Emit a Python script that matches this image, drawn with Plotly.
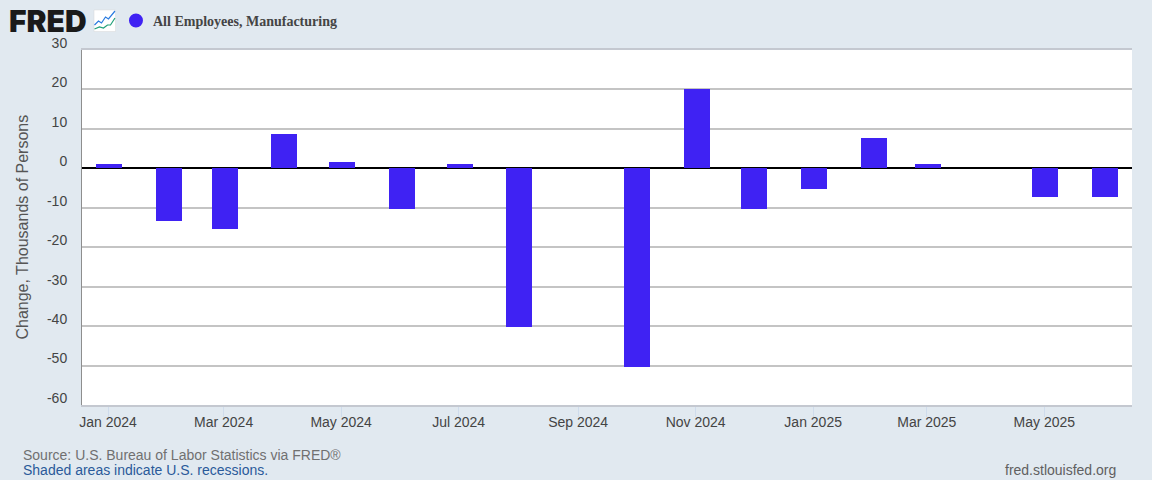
import plotly.graph_objects as go

months = ["2024-01-01","2024-02-01","2024-03-01","2024-04-01","2024-05-01","2024-06-01",
          "2024-07-01","2024-08-01","2024-09-01","2024-10-01","2024-11-01","2024-12-01",
          "2025-01-01","2025-02-01","2025-03-01","2025-04-01","2025-05-01","2025-06-01"]
values = [1,-13.3,-15.3,8.7,1.7,-10.3,1,-40.3,0,-50.3,20,-10.3,-5.3,7.7,1,0,-7.3,-7.3]
series_name = "All Employees, Manufacturing"
y_ticks = [30,20,10,0,-10,-20,-30,-40,-50,-60]
y_labels = ["30","20","10","0","-10","-20","-30","-40","-50","-60"]
x_ticks = ["2023-12-31 12:00","2024-02-29 12:00","2024-04-30 12:00","2024-06-30 12:00","2024-08-31 12:00",
           "2024-10-31 12:00","2024-12-31 12:00","2025-02-28 12:00","2025-04-30 12:00"]
x_labels = ["Jan 2024","Mar 2024","May 2024","Jul 2024","Sep 2024","Nov 2024",
            "Jan 2025","Mar 2025","May 2025"]

BG = "#e1e9f0"
SANS = "Liberation Sans, Arial, sans-serif"
W, H = 1152, 480
L, R, T, B = 81.5, 1132, 50, 405

def px(x): return (x - L) / (R - L)
def py(y): return (B - y) / (B - T)

fig = go.Figure(go.Bar(x=months, y=values, name=series_name,
                       marker=dict(color="#3f22f3", line_width=0),
                       width=13.5 * 86400000))

def note(x, y, text, size, color, anchor="left", family=SANS, bold=False, weight=None):
    f = dict(size=size, color=color, family=family)
    if weight:
        f["weight"] = weight
    fig.add_annotation(xref="paper", yref="paper", x=px(x), y=py(y), text=f"<b>{text}</b>" if bold else text,
                       showarrow=False, xanchor=anchor, yanchor="middle", borderpad=0, font=f)

# header
note(7.5, 21, "FRED", 30, "#1a1a1a", family="Inter, Liberation Sans, sans-serif", weight=900)
fig.add_shape(type="rect", xref="paper", yref="paper", x0=px(93.5), x1=px(115), y0=py(10), y1=py(31.5),
              fillcolor="white", line=dict(color="#d8d8d8", width=0.5))
fig.add_shape(type="path", xref="paper", yref="paper",
              path=f"M {px(94)} {py(25)} L {px(98)} {py(21)} L {px(101)} {py(23)} L {px(105)} {py(17)} L {px(108)} {py(19)} L {px(114.5)} {py(11)}",
              line=dict(color="#2a7be0", width=1.2))
fig.add_shape(type="path", xref="paper", yref="paper",
              path=f"M {px(94)} {py(29)} L {px(99)} {py(27)} L {px(103)} {py(28)} L {px(107)} {py(25)} L {px(110)} {py(25)} L {px(114.5)} {py(18)}",
              line=dict(color="#22a07a", width=1.2))
fig.add_shape(type="circle", xref="paper", yref="paper", x0=px(128.5), x1=px(142.5), y0=py(13.5), y1=py(27.5),
              fillcolor="#3f22f3", line_width=0)
note(152, 21, series_name, 14, "#444444", family="Liberation Serif, Times New Roman, serif", bold=True)

# footer
note(21, 455, "Source: U.S. Bureau of Labor Statistics via FRED®", 14, "#707070")
note(21, 470, "Shaded areas indicate U.S. recessions.", 14, "#2a5a9a")
note(1117, 470, "fred.stlouisfed.org", 14, "#606060", anchor="right")

# y title
fig.add_annotation(xref="paper", yref="paper", x=px(21), y=py(227), text="Change, Thousands of Persons",
                   textangle=-90, showarrow=False, xanchor="center", yanchor="middle",
                   font=dict(size=16, color="#555555", family=SANS))

fig.update_layout(
    width=W, height=H, autosize=False, showlegend=False, bargap=0,
    paper_bgcolor=BG, plot_bgcolor="white",
    margin=dict(l=L, r=W - R, t=T, b=H - B, pad=0),
    font=dict(family=SANS, size=14, color="#444444"),
    xaxis=dict(type="date", range=["2023-12-18", "2025-06-15"], tickmode="array",
               tickvals=x_ticks, ticktext=x_labels, ticks="outside", ticklen=10, tickwidth=1,
               tickcolor="#cfdcec", showgrid=False, zeroline=False, ticklabelstandoff=-7,
               showline=True, mirror=True, linecolor="#c4c8d0", linewidth=2,
               tickfont=dict(size=14, color="#444444")),
    yaxis=dict(range=[-60, 30], tickmode="array", tickvals=y_ticks, ticktext=y_labels, ticks="",
               gridcolor="#c4c4c4", gridwidth=2, zeroline=True, zerolinecolor="#000000", zerolinewidth=2,
               showline=True, linecolor="#8e8e8e", linewidth=1, ticklabelshift=-7, ticklabelstandoff=11,
               tickfont=dict(size=14, color="#444444")),
)
fig.write_html("out.html", config=dict(displayModeBar=False),
               post_script="document.body.style.margin='0';document.body.style.background='%s';" % BG)
